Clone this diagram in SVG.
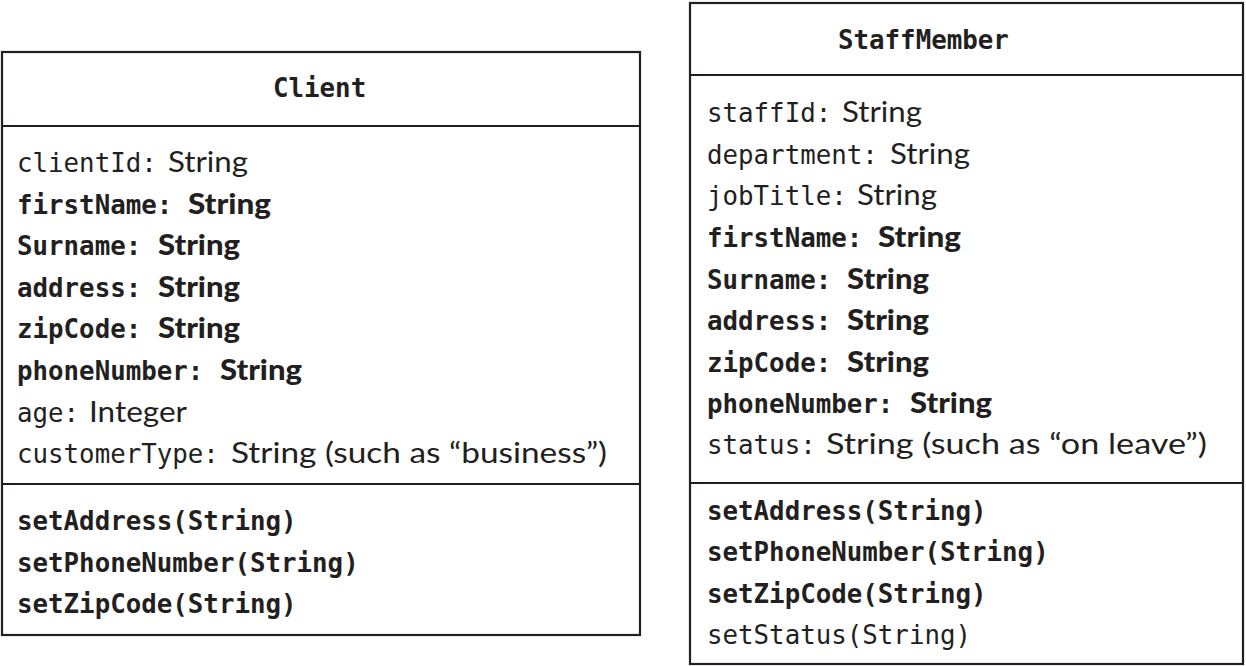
<svg xmlns="http://www.w3.org/2000/svg" width="1246" height="666" viewBox="0 0 1246 666">
<style>
.box{fill:#fff;stroke:#231f20;stroke-width:2.2}
.div{stroke:#231f20;stroke-width:2.2}
.m{font-family:"DejaVu Sans Mono","Liberation Mono",monospace;font-size:25.8px;fill:#231f20}
.mb{font-family:"DejaVu Sans Mono","Liberation Mono",monospace;font-size:25.8px;font-weight:bold;fill:#231f20}
.s{font-family:Lato,"Noto Sans",sans-serif;font-size:28px;fill:#231f20}
.sb{font-family:Lato,"Noto Sans",sans-serif;font-size:28px;font-weight:900;fill:#231f20}
</style>
<rect width="1246" height="666" fill="#fff"/>
<g id="client">
<rect class="box" x="2" y="52" width="638" height="583"/>
<line class="div" x1="2" y1="126" x2="640" y2="126"/>
<line class="div" x1="2" y1="484" x2="640" y2="484"/>
<text class="mb" x="273" y="97">Client</text>
<text class="m" x="17" y="172">clientId:</text><text class="s" x="168" y="172" textLength="80" lengthAdjust="spacingAndGlyphs">String</text>
<text class="mb" x="17" y="214">firstName:</text><text class="sb" x="188" y="214" textLength="83" lengthAdjust="spacingAndGlyphs">String</text>
<text class="mb" x="17" y="255">Surname:</text><text class="sb" x="158" y="255" textLength="82" lengthAdjust="spacingAndGlyphs">String</text>
<text class="mb" x="17" y="297">address:</text><text class="sb" x="158" y="297" textLength="82" lengthAdjust="spacingAndGlyphs">String</text>
<text class="mb" x="17" y="338">zipCode:</text><text class="sb" x="158" y="338" textLength="82" lengthAdjust="spacingAndGlyphs">String</text>
<text class="mb" x="17" y="380">phoneNumber:</text><text class="sb" x="220" y="380" textLength="82" lengthAdjust="spacingAndGlyphs">String</text>
<text class="m" x="17" y="422">age:</text><text class="s" x="89" y="422" textLength="98" lengthAdjust="spacingAndGlyphs">Integer</text>
<text class="m" x="17" y="463">customerType:</text><text class="s" x="231" y="463" textLength="376" lengthAdjust="spacingAndGlyphs">String (such as “business”)</text>
<text class="mb" x="17" y="530">setAddress(String)</text>
<text class="mb" x="17" y="572">setPhoneNumber(String)</text>
<text class="mb" x="17" y="613">setZipCode(String)</text>
</g>
<g id="staffmember">
<rect class="box" x="690" y="3" width="553" height="661"/>
<line class="div" x1="690" y1="75" x2="1243" y2="75"/>
<line class="div" x1="690" y1="483" x2="1243" y2="483"/>
<text class="mb" x="838" y="49">StaffMember</text>
<text class="m" x="707" y="122">staffId:</text><text class="s" x="842" y="122" textLength="80" lengthAdjust="spacingAndGlyphs">String</text>
<text class="m" x="707" y="164">department:</text><text class="s" x="890" y="164" textLength="80" lengthAdjust="spacingAndGlyphs">String</text>
<text class="m" x="707" y="205">jobTitle:</text><text class="s" x="857" y="205" textLength="80" lengthAdjust="spacingAndGlyphs">String</text>
<text class="mb" x="707" y="247">firstName:</text><text class="sb" x="878" y="247" textLength="83" lengthAdjust="spacingAndGlyphs">String</text>
<text class="mb" x="707" y="289">Surname:</text><text class="sb" x="847" y="289" textLength="82" lengthAdjust="spacingAndGlyphs">String</text>
<text class="mb" x="707" y="330">address:</text><text class="sb" x="847" y="330" textLength="82" lengthAdjust="spacingAndGlyphs">String</text>
<text class="mb" x="707" y="372">zipCode:</text><text class="sb" x="847" y="372" textLength="82" lengthAdjust="spacingAndGlyphs">String</text>
<text class="mb" x="707" y="413">phoneNumber:</text><text class="sb" x="910" y="413" textLength="82" lengthAdjust="spacingAndGlyphs">String</text>
<text class="m" x="707" y="454">status:</text><text class="s" x="826" y="454" textLength="381" lengthAdjust="spacingAndGlyphs">String (such as “on leave”)</text>
<text class="mb" x="707" y="520">setAddress(String)</text>
<text class="mb" x="707" y="561">setPhoneNumber(String)</text>
<text class="mb" x="707" y="603">setZipCode(String)</text>
<text class="m" x="707" y="644">setStatus(String)</text>
</g>
<g id="connectors"/>
</svg>
